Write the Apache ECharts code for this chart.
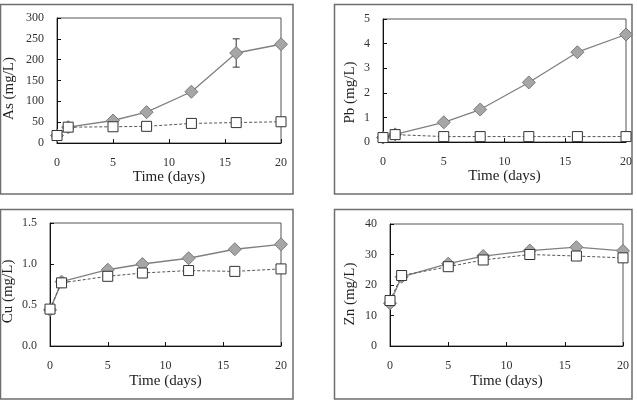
<!DOCTYPE html>
<html><head><meta charset="utf-8">
<script src="https://cdn.jsdelivr.net/npm/echarts@6/dist/echarts.min.js"></script>
<style>html,body{margin:0;padding:0;background:#fff}#c{width:637px;height:401px}</style>
</head><body><div id="c"></div>
<script>
const days = [0, 1, 5, 8, 12, 16, 20];
const asTreated = [18, 38, 54, 74, 123, 216, 237];
const asControl = [18, 38, 39, 40, 47, 49, 51];
const asErrLow = [null, null, null, null, null, 182, null];
const asErrHigh = [null, null, null, null, null, 250, null];
const pbTreated = [0.18, 0.31, 0.8, 1.32, 2.42, 3.65, 4.37];
const pbControl = [0.18, 0.3, 0.22, 0.22, 0.22, 0.22, 0.22];
const pbErrLow = [null, null, null, null, null, 3.55, 4.25];
const pbErrHigh = [null, null, null, null, null, 3.75, 4.5];
const cuTreated = [0.44, 0.785, 0.93, 1.0, 1.07, 1.18, 1.24];
const cuControl = [0.45, 0.77, 0.85, 0.89, 0.92, 0.91, 0.94];
const znTreated = [14, 22.7, 27, 29.5, 31.3, 32.4, 31.2];
const znControl = [14.9, 23.1, 26, 28.2, 30, 29.5, 28.9];
const yNames = ['As (mg/L)', 'Pb (mg/L)', 'Cu (mg/L)', 'Zn (mg/L)'];
const xName = 'Time (days)';

const FONT = '"Liberation Serif", "Times New Roman", serif';
const panels = [
  {grid:{left:57,top:18,width:224,height:125}, ymax:300, yint:50, dec:0, ygap:40, yshift:8, xgap:26, t:asTreated, c:asControl, lo:asErrLow, hi:asErrHigh},
  {grid:{left:383,top:19,width:243,height:123}, ymax:5, yint:1, dec:0, ygap:25, yshift:12, xgap:27, t:pbTreated, c:pbControl, lo:pbErrLow, hi:pbErrHigh},
  {grid:{left:50,top:223,width:231,height:123}, ymax:1.5, yint:0.5, dec:1, ygap:34, yshift:7, xgap:28, t:cuTreated, c:cuControl},
  {grid:{left:390,top:224,width:233,height:122}, ymax:40, yint:10, dec:0, ygap:32, yshift:9, xgap:28, t:znTreated, c:znControl}
];

const grids = [], xAxes = [], yAxes = [], series = [];
panels.forEach((p, i) => {
  grids.push(Object.assign({show:true, borderColor:'#555', borderWidth:1, backgroundColor:'transparent'}, p.grid));
  xAxes.push({type:'value', gridIndex:i, min:0, max:20, interval:5,
    name:xName, nameLocation:'middle', nameGap:p.xgap,
    nameTextStyle:{fontFamily:FONT, fontSize:15, color:'#222'},
    axisLine:{show:true, onZero:false, lineStyle:{color:'#111', width:1}},
    axisTick:{show:true, inside:true, length:4, lineStyle:{color:'#111'}},
    axisLabel:{fontFamily:FONT, fontSize:12, color:'#333', margin:14},
    splitLine:{show:false}});
  yAxes.push({type:'value', gridIndex:i, min:0, max:p.ymax, interval:p.yint,
    name:yNames[i], nameLocation:'middle', nameGap:p.ygap, nameRotate:90,
    nameTextStyle:{fontFamily:FONT, fontSize:15, color:'#222', padding:[0, 2*p.yshift, 0, 0]},
    axisLine:{show:true, onZero:false, lineStyle:{color:'#111', width:1}},
    axisTick:{show:true, inside:true, length:4, lineStyle:{color:'#111'}},
    axisLabel:{fontFamily:FONT, fontSize:12, color:'#333', margin:13,
      formatter: v => v.toFixed(p.dec)},
    splitLine:{show:false}});
  if (p.lo) {
    const ed = days.map((d, k) => [d, p.lo[k], p.hi[k]]).filter(r => r[1] != null);
    series.push({type:'custom', xAxisIndex:i, yAxisIndex:i, z:1, silent:true,
      data:ed,
      renderItem:(params, api) => {
        const a = api.coord([api.value(0), api.value(1)]);
        const b = api.coord([api.value(0), api.value(2)]);
        const w = 3.5;
        const st = {stroke:'#333', lineWidth:1};
        return {type:'group', children:[
          {type:'line', shape:{x1:a[0], y1:a[1], x2:b[0], y2:b[1]}, style:st},
          {type:'line', shape:{x1:a[0]-w, y1:a[1], x2:a[0]+w, y2:a[1]}, style:st},
          {type:'line', shape:{x1:b[0]-w, y1:b[1], x2:b[0]+w, y2:b[1]}, style:st}
        ]};
      }});
  }
  series.push({type:'line', xAxisIndex:i, yAxisIndex:i, z:2,
    data: days.map((d, k) => [d, p.t[k]]),
    symbol:'diamond', symbolSize:13,
    lineStyle:{color:'#808080', width:1.3},
    itemStyle:{color:'#a6a6a6', borderColor:'#7a7a7a', borderWidth:1},
    animation:false});
  series.push({type:'line', xAxisIndex:i, yAxisIndex:i, z:3,
    data: days.map((d, k) => [d, p.c[k]]),
    symbol:'rect', symbolSize:10,
    lineStyle:{color:'#555', width:1, type:[3,2]},
    itemStyle:{color:'#fff', borderColor:'#333', borderWidth:1},
    animation:false});
});

const boxes = [[0.5,4.5,292.5,189.5],[334.5,4.5,297.5,189.5],[0.5,209.5,292.5,189.5],[334.5,209.5,297.5,189.5]];
const chart = echarts.init(document.getElementById('c'), null, {renderer:'canvas'});
chart.setOption({
  animation:false,
  backgroundColor:'#fff',
  grid:grids, xAxis:xAxes, yAxis:yAxes, series:series,
  graphic: boxes.map(b => ({type:'rect', shape:{x:b[0], y:b[1], width:b[2], height:b[3]},
    style:{fill:'none', stroke:'#6e6e6e', lineWidth:1.5}, z:-1}))
});
</script></body></html>
